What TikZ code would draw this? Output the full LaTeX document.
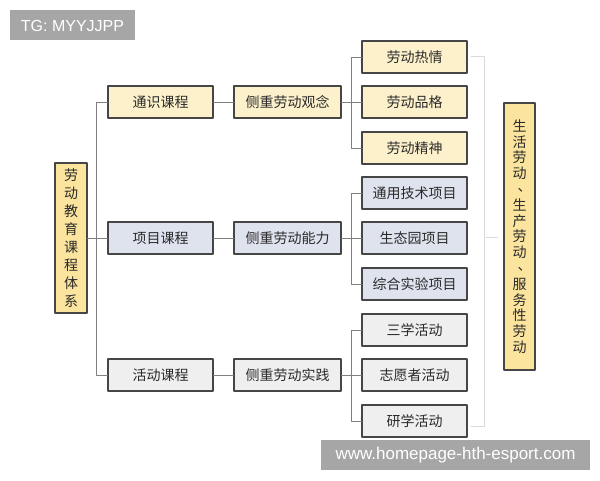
\documentclass[tikz,border=0pt]{standalone}
\usepackage{fontspec}
\setmainfont{Liberation Sans}
\newfontfamily\cjk{Noto Sans CJK SC}
\usetikzlibrary{positioning}
\definecolor{rootfill}{HTML}{FBE49E}
\definecolor{yellowfill}{HTML}{FDF1CC}
\definecolor{bluefill}{HTML}{DFE3EE}
\definecolor{grayfill}{HTML}{EFEFEF}
\definecolor{boxline}{HTML}{464646}
\definecolor{linkgray}{HTML}{808080}
\definecolor{lightline}{HTML}{DADADA}
\definecolor{markgray}{HTML}{A6A6A6}
\definecolor{boxtext}{HTML}{2A2A2A}
% vertical comma, moved up and right in its slot
\newcommand{\vcomma}{\makebox[14pt][l]{\hspace{5pt}\raisebox{3pt}[0pt][0pt]{、}}}

\begin{document}
\begin{tikzpicture}
    [line cap=round,line join=round,x=1pt,y=-1pt,
     box/.style={draw=boxline,line width=1.2pt,minimum width=105pt,minimum height=32pt,
        inner sep=0pt,text=boxtext,font=\cjk\fontsize{14}{16}\selectfont},
     tallbox/.style={box,fill=rootfill,minimum width=32pt,align=center},
     link/.style={draw=linkgray,line width=1pt},
     light/.style={draw=lightline,line width=1pt}]
%page frame
\useasboundingbox (0,0) rectangle (600,480);
\fill[white] (0,0) rectangle (600,480);

%watermarks
\fill[markgray] (10,10) rectangle (135,40);
\node (tag) [anchor=center,text=white,font=\fontsize{16}{16}\selectfont] at (72.5,25.5) {TG: MYYJJPP};
\fill[markgray] (321,440) rectangle (590,470);
\node (site) [anchor=center,text=white,font=\fontsize{17}{17}\selectfont] at (455.5,455.5) {www.homepage-hth-esport.com};

%root and the side note
\node (root) [tallbox,minimum height=150pt,font=\cjk\fontsize{14}{18.1}\selectfont] at (71,238)
    {劳\\动\\教\\育\\课\\程\\体\\系};
\node (side) [tallbox,minimum width=31pt,minimum height=267pt,font=\cjk\fontsize{14}{15.8}\selectfont] at (519.5,236.5)
    {生\\活\\劳\\动\\\vcomma\\生\\产\\劳\\动\\\vcomma\\服\\务\\性\\劳\\动};

%courses
\node (k1) [box,fill=yellowfill] at (160.5,102) {通识课程};
\node (k2) [box,fill=bluefill]   at (160.5,238) {项目课程};
\node (k3) [box,fill=grayfill]   at (160.5,375) {活动课程};

%focus
\node (f1) [box,fill=yellowfill,minimum width=107pt] at (287.5,102) {侧重劳动观念};
\node (f2) [box,fill=bluefill,minimum width=107pt]   at (287.5,238) {侧重劳动能力};
\node (f3) [box,fill=grayfill,minimum width=107pt]   at (287.5,375) {侧重劳动实践};

%contents
\node (c1) [box,fill=yellowfill] at (414.5,57)  {劳动热情};
\node (c2) [box,fill=yellowfill] at (414.5,102) {劳动品格};
\node (c3) [box,fill=yellowfill] at (414.5,148) {劳动精神};
\node (c4) [box,fill=bluefill]   at (414.5,193) {通用技术项目};
\node (c5) [box,fill=bluefill]   at (414.5,238) {生态园项目};
\node (c6) [box,fill=bluefill]   at (414.5,284) {综合实验项目};
\node (c7) [box,fill=grayfill]   at (414.5,330) {三学活动};
\node (c8) [box,fill=grayfill]   at (414.5,375) {志愿者活动};
\node (c9) [box,fill=grayfill]   at (414.5,421) {研学活动};

%tree lines
\draw[link] (root.east) -- (k2.west);
\draw[link] (k1.west) -- ++(-11,0) |- (k3.west);
\draw[link] (k1.east) -- (f1.west);
\draw[link] (k2.east) -- (f2.west);
\draw[link] (k3.east) -- (f3.west);
\draw[link] (f1.east) -- (c2.west);
\draw[link] (f2.east) -- (c5.west);
\draw[link] (f3.east) -- (c8.west);
\draw[link] (c1.west) -- ++(-10,0) |- (c3.west);
\draw[link] (c4.west) -- ++(-10,0) |- (c6.west);
\draw[link] (c7.west) -- ++(-10,0) |- (c9.west);

%light bracket to the side note
\coordinate (brtop) at (471,56);
\coordinate (brbot) at (471,426);
\coordinate (brmid) at (486,237);
\draw[light] (brtop) -- ++(13,0) |- (brbot);
\draw[light] (brmid) -- ([xshift=-6]side.west |- brmid);

 \end{tikzpicture}
\end{document}
